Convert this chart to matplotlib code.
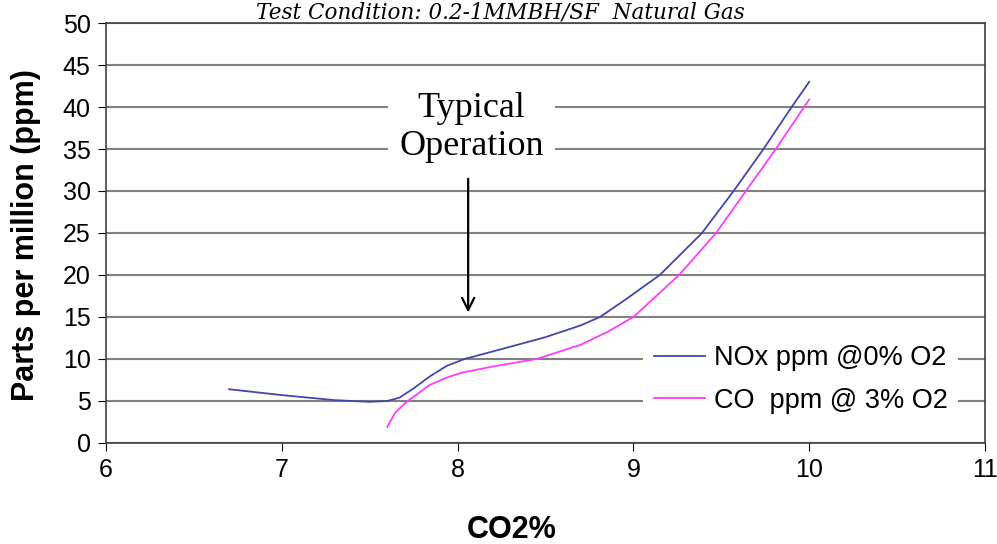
import numpy as np
import matplotlib.pyplot as plt

plt.rcParams['font.family'] = ['Liberation Sans', 'DejaVu Sans']

# NOx and CO readings against CO2%
nox_x = [6.7, 7.0, 7.3, 7.5, 7.6, 7.67, 7.75, 7.84, 7.94, 8.04, 8.2, 8.36, 8.5, 8.7, 8.81, 8.95,
         9.15, 9.39, 9.57, 9.74, 9.9, 10.0]
nox_y = [6.4, 5.7, 5.1, 4.9, 5.0, 5.4, 6.5, 7.9, 9.2, 10.0, 10.9, 11.8, 12.6, 14.0, 15.0, 17.0,
         20.0, 25.0, 30.0, 35.0, 40.0, 43.0]
co_x = [7.6, 7.645, 7.71, 7.75, 7.84, 7.94, 8.03, 8.2, 8.45, 8.7, 8.85, 9.0, 9.26, 9.47, 9.64,
        9.81, 10.0]
co_y = [1.9, 3.6, 4.9, 5.5, 6.9, 7.8, 8.4, 9.1, 10.0, 11.7, 13.2, 15.0, 20.0, 25.0, 30.0,
        35.0, 40.9]

x_ticks = [6, 7, 8, 9, 10, 11]
y_ticks = list(range(0, 55, 5))

fig = plt.figure(figsize=(9.97, 5.44), dpi=100)
ax = fig.add_axes([0.1063, 0.1857, 0.8817, 0.772])

ax.plot(nox_x, nox_y, color='#4646a8', linewidth=1.3, label='NOx ppm @0% O2')
ax.plot(co_x, co_y, color='#ff3cff', linewidth=1.3, label='CO  ppm @ 3% O2')

ax.set_xlim(6, 11)
ax.set_ylim(0, 50)
ax.set_xticks(x_ticks)
ax.set_yticks(y_ticks)
ax.yaxis.grid(True, color='#808080', linewidth=1.5)
ax.set_axisbelow(True)
ax.tick_params(labelsize=18, direction='out', length=6, pad=5)
for s in ax.spines.values():
    s.set_color('#404040')
    s.set_linewidth(1.2)

ax.set_ylabel('Parts per million (ppm)', fontsize=22, fontweight='bold')
ax.yaxis.set_label_coords(-0.074, 0.495)
ax.set_xlabel('CO2%', fontsize=22, fontweight='bold')
ax.xaxis.set_label_coords(0.462, -0.172)

fig.text(0.502, 0.997, 'Test Condition: 0.2-1MMBH/SF  Natural Gas', ha='center', va='top',
         fontsize=15.5, style='italic', family='DejaVu Serif')

# annotation text + arrow
ax.text(8.08, 37.6, 'Typical\nOperation', ha='center', va='center', fontsize=26,
        family='Liberation Serif', linespacing=1.2,
        bbox=dict(facecolor='white', edgecolor='none', pad=8))
ax.annotate('', xy=(8.06, 15.2), xytext=(8.06, 31.8),
            arrowprops=dict(arrowstyle='->', color='black', linewidth=1.6, mutation_scale=22))

leg = ax.legend(loc='lower right', bbox_to_anchor=(0.985, 0.012), fontsize=19.5, frameon=True,
                handlelength=1.9, handletextpad=0.3, labelspacing=0.6, borderpad=0.4)
leg.get_frame().set_edgecolor('none')
leg.get_frame().set_facecolor('white')
leg.get_frame().set_alpha(1)

plt.savefig('out.png', dpi=100)
